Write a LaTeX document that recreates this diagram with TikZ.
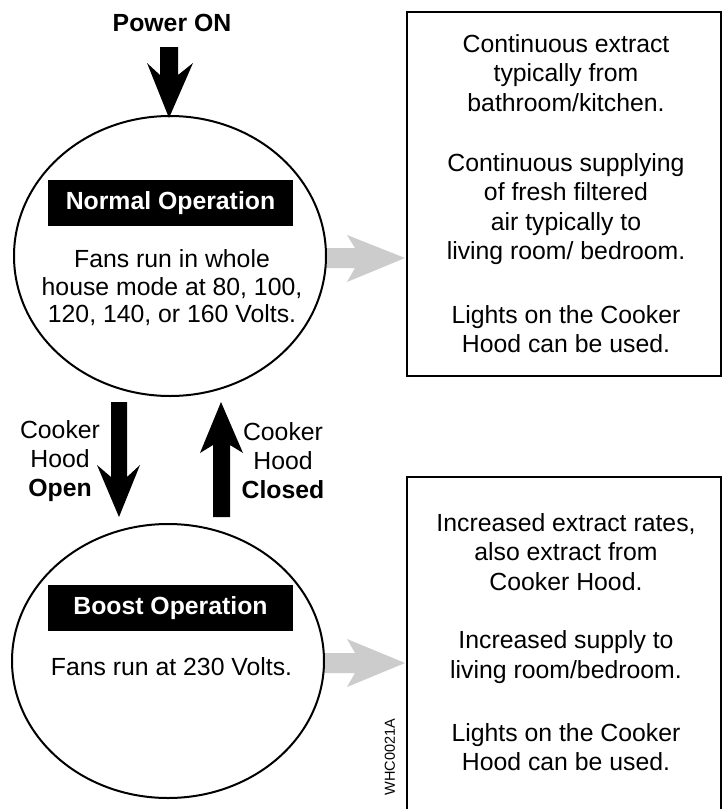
\documentclass[tikz,border=0pt]{standalone}
\usepackage{fontspec}
\setmainfont{Liberation Sans}
\usetikzlibrary{shapes.geometric}
\definecolor{arrowgray}{RGB}{204,204,204}
\begin{document}
\begin{tikzpicture}[x=1pt,y=-1pt,
  txt/.style={font=\fontsize{24.8}{29.5}\selectfont, align=center, inner sep=0pt},
  lbl/.style={font=\fontsize{24.8}{29}\selectfont, align=center, inner sep=0pt},
  body/.style={font=\fontsize{24.8}{27.5}\selectfont, align=center, inner sep=0pt},
  state/.style={ellipse, draw, line width=2pt, fill=white, minimum width=312pt, minimum height=280pt, inner sep=0pt},
  modelabel/.style={fill=black, text=white, font=\fontsize{24.8}{29}\selectfont\bfseries, minimum width=245pt, minimum height=46pt, inner sep=0pt},
  infobox/.style={draw, line width=2pt, minimum width=314pt, inner sep=0pt},
  blackarrow/.style={fill=black},
  grayarrow/.style={fill=arrowgray}]
\useasboundingbox (0,0) rectangle (723,809);
\clip (0,0) rectangle (723,809);
\fill[white] (0,0) rectangle (723,809);

% gray arrows (drawn first, ellipses cover their start)
\fill[grayarrow] (320,248) -- (355,248) -- (347,235) -- (405,258) -- (347,282) -- (355,268) -- (320,268) -- cycle;
\fill[grayarrow] (320,653) -- (355,653) -- (347,639) -- (405,663) -- (347,687) -- (355,673) -- (320,673) -- cycle;

% states
\node[state] (normal) at (170,256) {};
\node[state, minimum height=274pt] (boost) at (168,661) {};

\node[modelabel] (normlabel) at (170.5,203) {Normal Operation};
\node[body] (normtext) at (172,288) {Fans run in whole\\house mode at 80, 100,\\120, 140, or 160 Volts.};

\node[modelabel] (boostlabel) at (170.5,608) {Boost Operation};
\node[body] (boosttext) at (171.5,667) {Fans run at 230 Volts.};

% power on
\node[txt, font=\fontsize{24.8}{29.5}\selectfont\bfseries] (power) at (172,23) {Power ON};
\fill[blackarrow] (160,47) -- (178,47) -- (178,75) -- (193,63) -- (169,118) -- (147,63) -- (160,75) -- cycle;

% transitions
\fill[blackarrow] (111,402) -- (127,402) -- (127,477) -- (140,465) -- (119,517) -- (97,465) -- (111,477) -- cycle;
\fill[blackarrow] (213,517) -- (230,517) -- (230,445) -- (243,453) -- (221,402) -- (200,453) -- (213,445) -- cycle;

\node[lbl] (openlbl) at (60,461) {Cooker\\Hood\\\textbf{Open}};
\node[lbl] (closedlbl) at (283,461) {Cooker\\Hood\\\textbf{Closed}};

% info boxes
\node[infobox, minimum height=364pt] (info1) at (564,194) {};
\node[txt] (i1a) at (566,73) {Continuous extract\\typically from\\bathroom/kitchen.};
\node[txt] (i1b) at (566,209) {Continuous supplying\\of fresh filtered\\air typically to\\living room/ bedroom.};
\node[txt] (i1c) at (566,329) {Lights on the Cooker\\Hood can be used.};

\node[infobox, minimum height=360pt] (info2) at (564,657) {};
\node[txt] (i2a) at (566,552) {Increased extract rates,\\also extract from\\Cooker Hood.};
\node[txt] (i2b) at (566,657) {Increased supply to\\living room/bedroom.};
\node[txt] (i2c) at (566,747) {Lights on the Cooker\\Hood can be used.};

\node[rotate=90, font=\fontsize{14.5}{15}\selectfont, inner sep=0pt] (code) at (390,757) {WHC0021A};
\end{tikzpicture}
\end{document}
